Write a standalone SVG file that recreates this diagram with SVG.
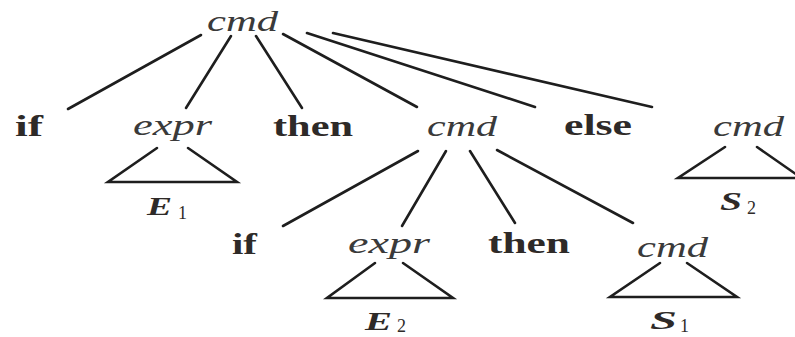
<svg xmlns="http://www.w3.org/2000/svg" width="795" height="337" viewBox="0 0 795 337">
<style>
.bg{fill:#ffffff}
.nt{font-family:"Liberation Serif","DejaVu Serif",serif;font-style:italic;font-size:30px;fill:#3a3a3a}
.kw{font-family:"Liberation Serif","DejaVu Serif",serif;font-weight:bold;font-size:29px;fill:#2e2a28}
.sv{font-family:"Liberation Serif","DejaVu Serif",serif;font-weight:bold;font-style:italic;font-size:25px;fill:#2e2a28}
.sub{font-family:"Liberation Serif","DejaVu Serif",serif;font-size:18px;fill:#2e2a28}
.edge{stroke:#1e1e1e;stroke-width:2.6;stroke-linecap:round;fill:none}
</style>
<rect class="bg" x="0" y="0" width="795" height="337"/>
<g id="connectors">
<line class="edge" x1="201" y1="35" x2="68" y2="109"/>
<line class="edge" x1="231" y1="36" x2="186" y2="108"/>
<line class="edge" x1="256" y1="36" x2="302" y2="108"/>
<line class="edge" x1="283" y1="34" x2="417" y2="107"/>
<line class="edge" x1="307" y1="33" x2="535" y2="107"/>
<line class="edge" x1="333" y1="33" x2="652" y2="107"/>
<line class="edge" x1="418" y1="151" x2="283" y2="226"/>
<line class="edge" x1="446" y1="151" x2="402" y2="226"/>
<line class="edge" x1="470" y1="151" x2="515" y2="223"/>
<line class="edge" x1="497" y1="150" x2="633" y2="223"/>
</g>
<g id="root-cmd"><text class="nt" x="207" y="31" textLength="71" lengthAdjust="spacingAndGlyphs">cmd</text></g>
<g id="if1"><text class="kw" x="15" y="136" textLength="28" lengthAdjust="spacingAndGlyphs">if</text></g>
<g id="expr1">
<text class="nt" x="133" y="135" textLength="79" lengthAdjust="spacingAndGlyphs">expr</text>
<path class="edge" d="M157 148 L108 182 L237 182 L188 148"/>
<text class="sv" x="147" y="215" textLength="25" lengthAdjust="spacingAndGlyphs">E</text>
<text class="sub" x="178" y="219">1</text>
</g>
<g id="then1"><text class="kw" x="273" y="136" textLength="80" lengthAdjust="spacingAndGlyphs">then</text></g>
<g id="cmd2"><text class="nt" x="427" y="136" textLength="70" lengthAdjust="spacingAndGlyphs">cmd</text></g>
<g id="else"><text class="kw" x="564" y="135" textLength="68" lengthAdjust="spacingAndGlyphs">else</text></g>
<g id="cmd3">
<text class="nt" x="713" y="136" textLength="71" lengthAdjust="spacingAndGlyphs">cmd</text>
<path class="edge" d="M725 147 L678 178 L800 178"/>
<line class="edge" x1="757" y1="147" x2="800" y2="177"/>
<text class="sv" x="720" y="210" textLength="22" lengthAdjust="spacingAndGlyphs">S</text>
<text class="sub" x="747" y="214">2</text>
</g>
<g id="if2"><text class="kw" x="232" y="254" textLength="25" lengthAdjust="spacingAndGlyphs">if</text></g>
<g id="expr2">
<text class="nt" x="348" y="253" textLength="82" lengthAdjust="spacingAndGlyphs">expr</text>
<path class="edge" d="M375 263 L327 298 L453 298 L403 263"/>
<text class="sv" x="365" y="330" textLength="27" lengthAdjust="spacingAndGlyphs">E</text>
<text class="sub" x="397" y="332">2</text>
</g>
<g id="then2"><text class="kw" x="488" y="253" textLength="82" lengthAdjust="spacingAndGlyphs">then</text></g>
<g id="cmd4">
<text class="nt" x="637" y="257" textLength="71" lengthAdjust="spacingAndGlyphs">cmd</text>
<path class="edge" d="M660 263 L610 297 L737 297 L687 263"/>
<text class="sv" x="650" y="329" textLength="27" lengthAdjust="spacingAndGlyphs">S</text>
<text class="sub" x="680" y="332">1</text>
</g>
</svg>
